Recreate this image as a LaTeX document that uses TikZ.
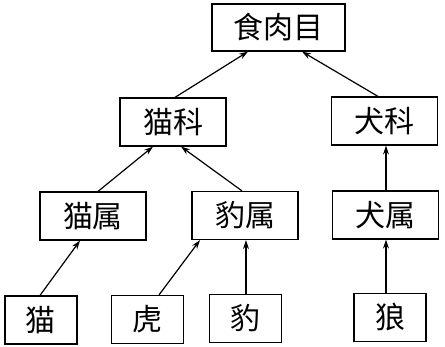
\documentclass[tikz,border=0pt]{standalone}
\usepackage{fontspec}
\newfontfamily\cjk{Noto Sans CJK SC}
\usetikzlibrary{arrows.meta}

\begin{document}
\begin{tikzpicture}[
    x=1pt, y=-1pt,
    font=\cjk\fontsize{30}{34}\selectfont,
    box/.style={draw, line width=1.2pt, inner sep=0pt, minimum width=106pt, minimum height=48pt, align=center},
    leaf/.style={box, minimum width=72pt},
    arr/.style={-{Stealth[length=9pt, width=6pt]}, line width=1.2pt},
]
\useasboundingbox (0,0) rectangle (445,347);

\node[box, minimum width=133pt, minimum height=47pt] (order) at (278.5, 27.5) {食肉目};

\node[box] (felidae) at (173, 122) {猫科};
\node[box] (canidae) at (384.5, 121) {犬科};

\node[box] (felis) at (93, 216) {猫属};
\node[box] (panthera) at (245, 215.5) {豹属};
\node[box] (canis) at (385.5, 215) {犬属};

\node[leaf] (cat) at (41, 320) {猫};
\node[leaf] (tiger) at (147.5, 319.5) {虎};
\node[leaf] (leopard) at (245.5, 318.5) {豹};
\node[leaf] (wolf) at (390, 317.5) {狼};

\draw[arr] ([xshift=2pt]felidae.north) -- ([xshift=-30.5pt]order.south);
\draw[arr] ([xshift=-6.5pt]canidae.north) -- ([xshift=23.5pt]order.south);
\draw[arr] ([xshift=5pt]felis.north) -- ([xshift=-20pt]felidae.south);
\draw[arr] ([xshift=-3pt]panthera.north) -- ([xshift=8pt]felidae.south);
\draw[arr] ([xshift=0.5pt]canis.north) -- ([xshift=1.5pt]canidae.south);
\draw[arr] ([xshift=-1pt]cat.north) -- ([xshift=-13pt]felis.south);
\draw[arr] ([xshift=11.5pt]tiger.north) -- ([xshift=-45pt]panthera.south);
\draw[arr] ([xshift=0.5pt]leopard.north) -- ([xshift=1pt]panthera.south);
\draw[arr] ([xshift=-4pt]wolf.north) -- ([xshift=0.5pt]canis.south);

\end{tikzpicture}
\end{document}
